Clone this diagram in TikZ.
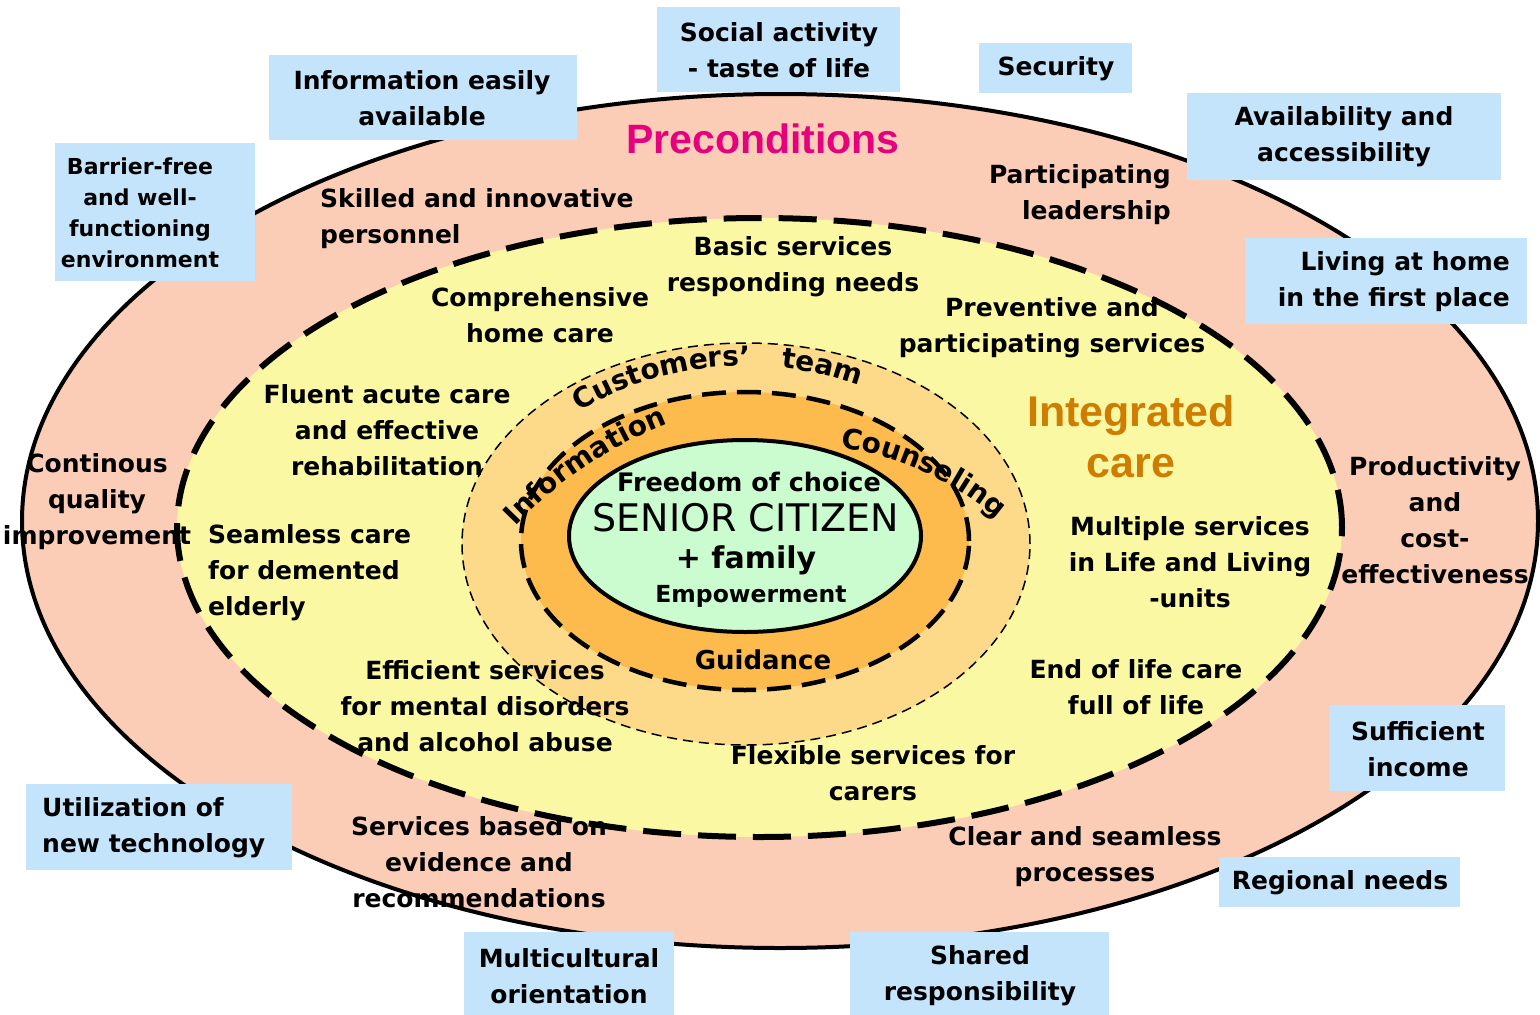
\documentclass[tikz,border=0pt]{standalone}
\usepackage{fontspec}
\setmainfont{DejaVu Sans}
\newfontfamily\arialfont{Liberation Sans}
\usetikzlibrary{decorations.text}
\definecolor{salmonc}{HTML}{FCCDB6}
\definecolor{yellowc}{HTML}{FAF8A3}
\definecolor{lorangec}{HTML}{FCDA8A}
\definecolor{orangec}{HTML}{FDBB4E}
\definecolor{greenc}{HTML}{CAFCCF}
\definecolor{bluec}{HTML}{C4E4FC}
\definecolor{magentac}{HTML}{E6007E}
\definecolor{ocherc}{HTML}{CF7D00}
\newcommand\curvefont{\bfseries\fontsize{28}{30}\selectfont}
\newcommand\guidefont{\bfseries\fontsize{26}{30}\selectfont}
\begin{document}
\begin{tikzpicture}[x=1pt,y=-1pt,
  lbl/.style={font=\bfseries\fontsize{25}{36}\selectfont, align=center, inner sep=0pt},
  lblsmall/.style={font=\bfseries\fontsize{22}{31}\selectfont, align=center, inner sep=0pt},
  bluebox/.style={fill=bluec, inner sep=0pt},
  title/.style={font=\arialfont\bfseries\fontsize{41}{51}\selectfont, align=center, inner sep=0pt},
  curvetext/.style={decorate, decoration={text along path, text align=center, text={|\curvefont|#1}}}]
\path[use as bounding box] (0,0) rectangle (1540,1015);

% rings
\draw[fill=salmonc, line width=4pt] (780,521) ellipse [x radius=758pt, y radius=427pt];
\draw[fill=yellowc, line width=6pt, dash pattern=on 38pt off 17pt] (759.5,527.5) ellipse [x radius=582.5pt, y radius=309.5pt];
\draw[fill=lorangec, line width=1.5pt, dash pattern=on 10pt off 6pt] (746,544) ellipse [x radius=284pt, y radius=201pt];
\draw[fill=orangec, line width=4.5pt, dash pattern=on 24pt off 11pt] (745,541) ellipse [x radius=224pt, y radius=149pt];
\draw[fill=greenc, line width=4pt] (745,536) ellipse [x radius=176pt, y radius=96pt];

% blue boxes
\node[bluebox, minimum width=243pt, minimum height=85pt] (bSocial) at (778.5,49.5) {};
\node[bluebox, minimum width=308pt, minimum height=85pt] (bInfo) at (423,97.5) {};
\node[bluebox, minimum width=153pt, minimum height=50pt] (bSecurity) at (1055.5,68) {};
\node[bluebox, minimum width=314pt, minimum height=87pt] (bAvail) at (1344,136.5) {};
\node[bluebox, minimum width=200pt, minimum height=138pt] (bBarrier) at (155,212) {};
\node[bluebox, minimum width=282pt, minimum height=86pt] (bLiving) at (1386,281) {};
\node[bluebox, minimum width=266pt, minimum height=86pt] (bUtil) at (159,827) {};
\node[bluebox, minimum width=176pt, minimum height=86pt] (bSuff) at (1417,748) {};
\node[bluebox, minimum width=241pt, minimum height=50pt] (bRegional) at (1339.5,882) {};
\node[bluebox, minimum width=210pt, minimum height=83pt] (bMulti) at (569,973.5) {};
\node[bluebox, minimum width=259pt, minimum height=83pt] (bShared) at (979.5,973.5) {};

% box texts
\node[lbl] (tSocial) at (779,50.5) {Social activity\\- taste of life};
\node[lbl] (tInfo) at (422,98.5) {Information easily\\available};
\node[lbl] (tSecurity) at (1056,69) {Security};
\node[lbl] (tAvail) at (1344,137) {Availability and\\accessibility};
\node[lblsmall] (tBarrier) at (140,212.5) {Barrier-free\\and well-\\functioning\\environment};
\node[lbl, align=right, anchor=east] (tLiving) at (1510,282) {Living at home\\in the first place};
\node[lbl, align=left, anchor=west] (tUtil) at (42,828) {Utilization of\\new technology};
\node[lbl] (tSuff) at (1418,749) {Sufficient\\income};
\node[lbl] (tRegional) at (1340,883) {Regional needs};
\node[lbl] (tMulti) at (569,976) {Multicultural\\orientation};
\node[lbl] (tShared) at (980,976) {Shared\\responsibility};

% outer ring texts
\node[title, text=magentac] (tPre) at (763,139) {Preconditions};
\node[lbl, align=left, anchor=west] (tSkilled) at (320,219) {Skilled and innovative\\personnel};
\node[lbl, align=right, anchor=east] (tPartic) at (1171,194.5) {Participating\\leadership};
\node[lbl] (tCont) at (97,502) {Continous\\quality\\improvement};
\node[lbl] (tProd) at (1435,520) {Productivity\\and\\cost-\\effectiveness};
\node[lbl] (tEvid) at (479,862.5) {Services based on\\evidence and\\recommendations};
\node[lbl] (tClear) at (1085,857) {Clear and seamless\\processes};

% integrated care ring texts
\node[title, text=ocherc, font=\arialfont\bfseries\fontsize{43}{51}\selectfont] (tInteg) at (1131,436.5) {Integrated\\care};
\node[lbl] (tBasic) at (793,267) {Basic services\\responding needs};
\node[lbl] (tCompr) at (540,315.5) {Comprehensive\\home care};
\node[lbl] (tPrev) at (1052,327.5) {Preventive and\\participating services};
\node[lbl] (tFluent) at (387,429.7) {Fluent acute care\\and effective\\rehabilitation};
\node[lbl, align=left, anchor=west] (tSeam) at (208,572.3) {Seamless care\\for demented\\elderly};
\node[lbl] (tMult) at (1190,562) {Multiple services\\in Life and Living\\-units};
\node[lbl] (tEffic) at (485,706) {Efficient services\\for mental disorders\\and alcohol abuse};
\node[lbl] (tEnd) at (1136,687.5) {End of life care\\full of life};
\node[lbl] (tFlex) at (873,773) {Flexible services for\\carers};

% curved words
\path[curvetext={Customers'}] ([shift={(746,544)}]138:248pt and 178pt) arc[start angle=138, end angle=84, x radius=248pt, y radius=178pt];
\path[curvetext={team}] ([shift={(746,544)}]90:248pt and 178pt) arc[start angle=90, end angle=54, x radius=248pt, y radius=178pt];
\path[curvetext={Information}] ([shift={(827,824)}]149:431pt) arc[start angle=149, end angle=99, radius=431pt];
\path[curvetext={Counseling}] ([shift={(792,761)}]86:317.5pt) arc[start angle=86, end angle=45, radius=317.5pt];
\node[inner sep=0pt, font=\guidefont] (tGuid) at (763,660) {Guidance};

% centre
\node[inner sep=0pt, font=\bfseries\fontsize{25.5}{30}\selectfont] (tFree) at (749,482) {Freedom of choice};
\node[inner sep=0pt, font=\fontsize{38}{40}\selectfont] (tSenior) at (746,518) {SENIOR CITIZEN};
\node[inner sep=0pt, font=\bfseries\fontsize{30}{34}\selectfont] (tFamily) at (746,560) {+ family};
\node[inner sep=0pt, font=\bfseries\fontsize{23.5}{28}\selectfont] (tEmp) at (751,596) {Empowerment};
\end{tikzpicture}
\end{document}
